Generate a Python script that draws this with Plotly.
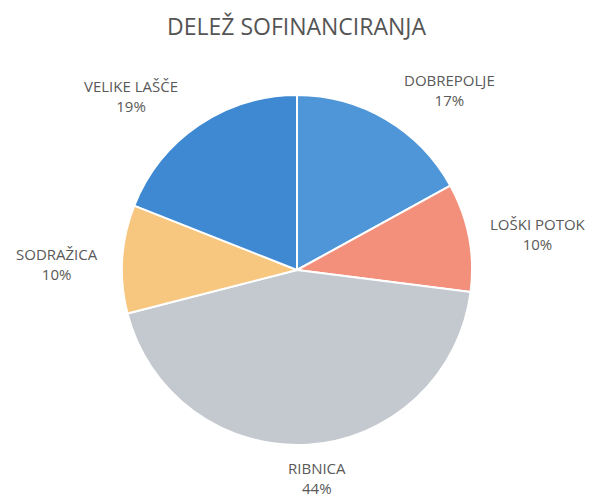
import plotly.graph_objects as go

categories = ["DOBREPOLJE", "LOŠKI POTOK", "RIBNICA", "SODRAŽICA", "VELIKE LAŠČE"]
values = [17, 10, 44, 10, 19]
percent_labels = ["17%", "10%", "44%", "10%", "19%"]

colors = ["#4f96d8", "#f3907c", "#c3c9ce", "#f7c67f", "#3e89d2"]
W, H = 593, 500
OFF = 8  # page body margin offset
label_px = [(449, 90), (538, 234), (317, 478), (57, 264), (131, 96)]

cx, cy, r = 297 - OFF, 270 - OFF, 175
fig = go.Figure(go.Pie(
    labels=categories, values=values, sort=False, direction="clockwise",
    rotation=0, textinfo="none", hoverinfo="label+percent",
    marker=dict(colors=colors, line=dict(color="white", width=2)),
    domain=dict(x=[(cx - r) / W, (cx + r) / W], y=[(H - cy - r) / H, (H - cy + r) / H]),
    showlegend=False,
))

for cat, pct, (px, py) in zip(categories, percent_labels, label_px):
    fig.add_annotation(
        x=(px - OFF) / W, y=1 - (py - OFF) / H, xref="paper", yref="paper",
        xanchor="center", yanchor="middle",
        text=f"{cat}<br>{pct}", showarrow=False, align="center",
        font=dict(family="Open Sans, DejaVu Sans", size=15, color="#595959"),
    )

fig.add_annotation(
    x=(297 - OFF) / W, y=1 - (26 - OFF) / H, xref="paper", yref="paper",
    xanchor="center", yanchor="middle", showarrow=False,
    text="DELEŽ SOFINANCIRANJA",
    font=dict(family="Open Sans, DejaVu Sans", size=23, color="#555555"),
)

fig.update_layout(
    width=W, height=H, margin=dict(l=0, r=0, t=0, b=0),
    paper_bgcolor="white", plot_bgcolor="white",
)

fig.write_html("out.html")
